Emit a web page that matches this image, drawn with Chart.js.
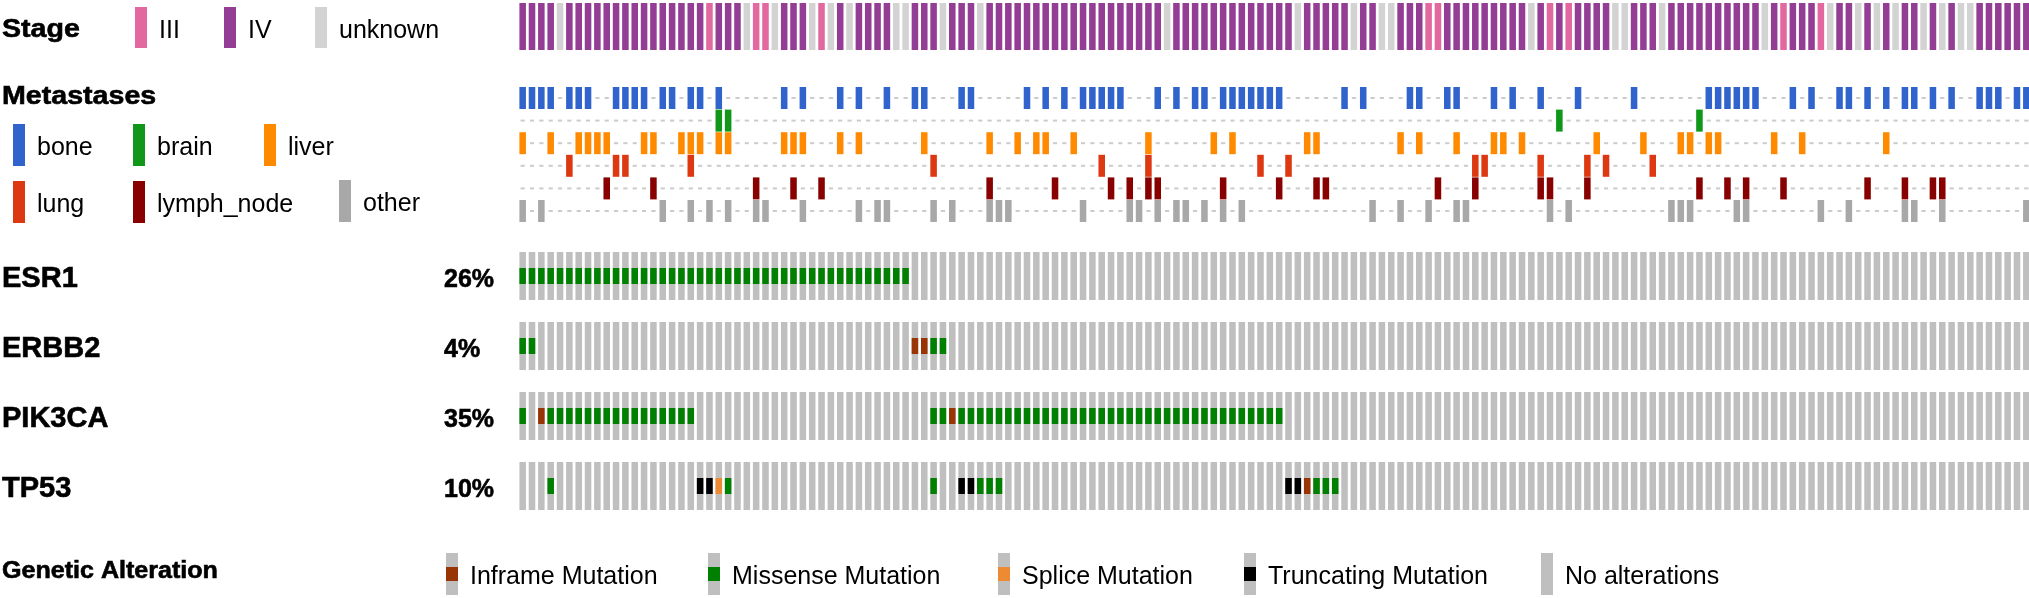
<!DOCTYPE html>
<html>
<head>
<meta charset="utf-8">
<script src="https://cdn.jsdelivr.net/npm/chart.js@4.4.1/dist/chart.umd.min.js"></script>
<style>
  html, body { margin: 0; padding: 0; background: #fff; overflow: hidden; width: 2029px; height: 598px; }
  #wrap { position: absolute; left: 0; top: 0; width: 2031px; height: 598px; }
</style>
</head>
<body>
<div id="wrap"><canvas id="onco"></canvas></div>
<script>
// one column per sample
const nSamples = 162;

// clinical: stage per sample (III, IV, NA = unknown)
const stage = [
  "IV","IV","IV","IV","NA","IV","IV","IV","IV","IV",
  "IV","IV","IV","IV","IV","IV","IV","IV","IV","IV",
  "III","IV","IV","IV","NA","III","III","NA","IV","IV",
  "IV","NA","III","NA","IV","NA","IV","IV","IV","IV",
  "NA","NA","IV","IV","IV","NA","IV","IV","IV","NA",
  "IV","IV","IV","IV","IV","IV","IV","IV","IV","IV",
  "IV","IV","IV","IV","IV","IV","IV","IV","IV","NA",
  "IV","IV","IV","IV","IV","IV","IV","IV","IV","IV",
  "IV","IV","IV","NA","IV","IV","IV","IV","IV","NA",
  "IV","IV","NA","NA","IV","IV","IV","III","III","IV",
  "IV","IV","IV","IV","IV","IV","IV","IV","NA","IV",
  "III","IV","III","IV","IV","IV","IV","NA","NA","IV",
  "IV","IV","NA","IV","IV","IV","IV","IV","IV","IV",
  "IV","IV","IV","NA","IV","III","IV","IV","IV","III",
  "NA","IV","IV","NA","IV","NA","IV","NA","IV","IV",
  "NA","IV","NA","IV","NA","NA","IV","IV","IV","IV",
  "IV","IV"
];

// clinical: metastatic sites (sample indices)
const metSites = ["bone", "brain", "liver", "lung", "lymph_node", "other"];
const metBone = [0,1,2,3,5,6,7,10,11,12,13,15,16,18,19,21,28,30,34,36,39,42,43,47,48,
  54,56,58,60,61,62,63,64,68,70,72,73,75,76,77,78,79,80,81,88,90,95,96,99,100,104,106,
  109,113,119,127,128,129,130,131,132,136,138,141,142,144,146,148,149,151,153,156,157,158,160,161];
const metBrain = [21,22,111,126];
const metLiver = [0,3,6,7,8,9,13,14,17,18,19,21,22,28,29,30,34,36,43,50,53,55,56,59,67,74,76,
  84,85,94,96,100,104,105,107,115,120,124,125,127,128,134,137,146];
const metLung = [5,10,11,18,44,62,67,79,82,102,103,109,114,116,121];
const metLymph = [9,14,25,29,32,50,57,63,65,67,68,75,81,85,86,98,102,109,110,114,126,129,131,
  135,144,148,151,152];
const metOther = [0,2,15,18,20,22,25,26,30,36,38,39,44,46,50,51,52,60,65,66,68,70,71,73,75,77,
  91,94,97,100,101,110,112,123,124,125,130,131,139,142,148,149,152,161];

// genetic alterations (sample indices per type)
const genes = ["ESR1", "ERBB2", "PIK3CA", "TP53"];
const esr1Missense = [0,1,2,3,4,5,6,7,8,9,10,11,12,13,14,15,16,17,18,19,20,
  21,22,23,24,25,26,27,28,29,30,31,32,33,34,35,36,37,38,39,40,41];
const erbb2Missense = [0,1,44,45];
const erbb2Inframe = [42,43];
const pik3caMissense = [0,3,4,5,6,7,8,9,10,11,12,13,14,15,16,17,18,44,45,
  47,48,49,50,51,52,53,54,55,56,57,58,59,60,61,62,63,64,65,66,67,68,69,70,
  71,72,73,74,75,76,77,78,79,80,81];
const pik3caInframe = [2,46];
const tp53Missense = [3,22,44,49,50,51,85,86,87];
const tp53Truncating = [19,20,47,48,82,83];
const tp53Splice = [21];
const tp53Inframe = [84];

const alterTypes = ["Inframe Mutation", "Missense Mutation", "Splice Mutation", "Truncating Mutation", "No alterations"];

// --- styles ---
const colors = {
  stage: { III: "#e2689f", IV: "#943d95", NA: "#d3d3d3" },
  met: { bone: "#3064cc", brain: "#109618", liver: "#ff8a00", lung: "#dc3912", lymph_node: "#880000", other: "#a8a8a8" },
  alter: { "Inframe Mutation": "#993404", "Missense Mutation": "#008000", "Splice Mutation": "#ee8a33",
           "Truncating Mutation": "#000000", "No alterations": "#bfbfbf" },
  dash: "#cccccc"
};

const geneData = {
  ESR1:   { "Missense Mutation": esr1Missense },
  ERBB2:  { "Missense Mutation": erbb2Missense, "Inframe Mutation": erbb2Inframe },
  PIK3CA: { "Missense Mutation": pik3caMissense, "Inframe Mutation": pik3caInframe },
  TP53:   { "Missense Mutation": tp53Missense, "Truncating Mutation": tp53Truncating,
            "Splice Mutation": tp53Splice, "Inframe Mutation": tp53Inframe }
};
const metData = { bone: metBone, brain: metBrain, liver: metLiver, lung: metLung, lymph_node: metLymph, other: metOther };

// track layout (y in page pixels)
const stageBand = [3, 50];
const metTop = 87, metPitch = 22.6, metH = 22;
const geneTop = 252, genePitch = 70, geneH = 48;

function band(list, y0, y1) {
  const d = new Array(nSamples).fill(null);
  list.forEach(i => { d[i] = [y0, y1]; });
  return d;
}

const datasets = [];
const common = { grouped: false, categoryPercentage: 1, barPercentage: 0.7, borderWidth: 0 };

datasets.push(Object.assign({}, common, {
  data: stage.map(() => stageBand.slice()),
  backgroundColor: stage.map(s => colors.stage[s]),
  order: 2
}));

metSites.forEach((site, k) => {
  const top = metTop + k * metPitch;
  const mid = top + metH / 2;
  const present = metData[site];
  const absent = [];
  for (let i = 0; i < nSamples; i++) if (!present.includes(i)) absent.push(i);
  datasets.push(Object.assign({}, common, { data: band(present, top, top + metH), backgroundColor: colors.met[site], order: 2 }));
  datasets.push(Object.assign({}, common, { data: band(absent, mid - 1, mid + 1), backgroundColor: colors.dash, barPercentage: 0.45, order: 3 }));
});

const pctLabels = [];
genes.forEach((g, k) => {
  const top = geneTop + k * genePitch;
  const all = [];
  for (let i = 0; i < nSamples; i++) all.push(i);
  datasets.push(Object.assign({}, common, { data: band(all, top, top + geneH), backgroundColor: colors.alter["No alterations"], order: 3 }));
  const altered = new Set();
  Object.keys(geneData[g]).forEach(t => {
    geneData[g][t].forEach(i => altered.add(i));
    datasets.push(Object.assign({}, common, {
      data: band(geneData[g][t], top + geneH / 3, top + 2 * geneH / 3),
      backgroundColor: colors.alter[t], order: 1
    }));
  });
  pctLabels.push(Math.round(100 * altered.size / nSamples) + "%");
});

const FONT = '"Liberation Sans", Arial, Helvetica, sans-serif';
function txt(ctx, s, x, y, size, bold, sx) {
  ctx.save();
  ctx.translate(x, y);
  ctx.scale(sx || 1, 1);
  ctx.font = (bold ? "bold " : "") + size + "px " + FONT;
  ctx.fillStyle = "#000";
  ctx.textBaseline = "alphabetic";
  ctx.fillText(s, 0, 0);
  if (bold) {
    // a bit heavier, like the original heavy sans
    ctx.strokeStyle = "#000";
    ctx.lineWidth = 0.6;
    ctx.strokeText(s, 0, 0);
  }
  ctx.restore();
}

const labelPlugin = {
  id: "oncoLabels",
  afterDraw(chart) {
    const ctx = chart.ctx;
    // stage header + legend
    txt(ctx, "Stage", 2, 37, 26, true, 1.1);
    [["III", 135], ["IV", 224], ["NA", 315]].forEach(([c, x]) => {
      ctx.fillStyle = colors.stage[c];
      ctx.fillRect(x, 7, 12, 41);
      txt(ctx, c === "NA" ? "unknown" : c, x + 24, 38, 25, false);
    });
    // metastases header + legend
    txt(ctx, "Metastases", 2, 104, 26, true, 1.1);
    const metLeg = [["bone", 13, 124], ["brain", 133, 124], ["liver", 264, 124],
                    ["lung", 13, 181], ["lymph_node", 133, 181], ["other", 339, 180]];
    metLeg.forEach(([s, x, y]) => {
      ctx.fillStyle = colors.met[s];
      ctx.fillRect(x, y, 12, 42);
      txt(ctx, s, x + 24, y + 31, 25, false);
    });
    // gene labels + percentages
    genes.forEach((g, k) => {
      const base = geneTop + k * genePitch + 35;
      txt(ctx, g, 2, base, 29, true);
      txt(ctx, pctLabels[k], 444, base, 25, true);
    });
    // genetic alteration legend
    txt(ctx, "Genetic Alteration", 2, 578, 23, true, 1.09);
    const altX = [446, 708, 998, 1244, 1541];
    alterTypes.forEach((t, k) => {
      const x = altX[k];
      ctx.fillStyle = colors.alter["No alterations"];
      ctx.fillRect(x, 553, 12, 42);
      if (t !== "No alterations") {
        ctx.fillStyle = colors.alter[t];
        ctx.fillRect(x, 567, 12, 14);
      }
      txt(ctx, t, x + 24, 584, 25, false);
    });
  }
};

new Chart(document.getElementById("onco"), {
  type: "bar",
  data: { labels: stage.map((_, i) => "S" + (i + 1)), datasets: datasets },
  options: {
    responsive: true,
    maintainAspectRatio: false,
    animation: false,
    layout: { padding: { left: 518, right: 0, top: 0, bottom: 0 } },
    plugins: { legend: { display: false }, tooltip: { enabled: false } },
    scales: {
      x: { type: "category", display: false, offset: true, grid: { display: false } },
      y: { type: "linear", display: false, min: 0, max: 598, reverse: true }
    }
  },
  plugins: [labelPlugin]
});
</script>
</body>
</html>
